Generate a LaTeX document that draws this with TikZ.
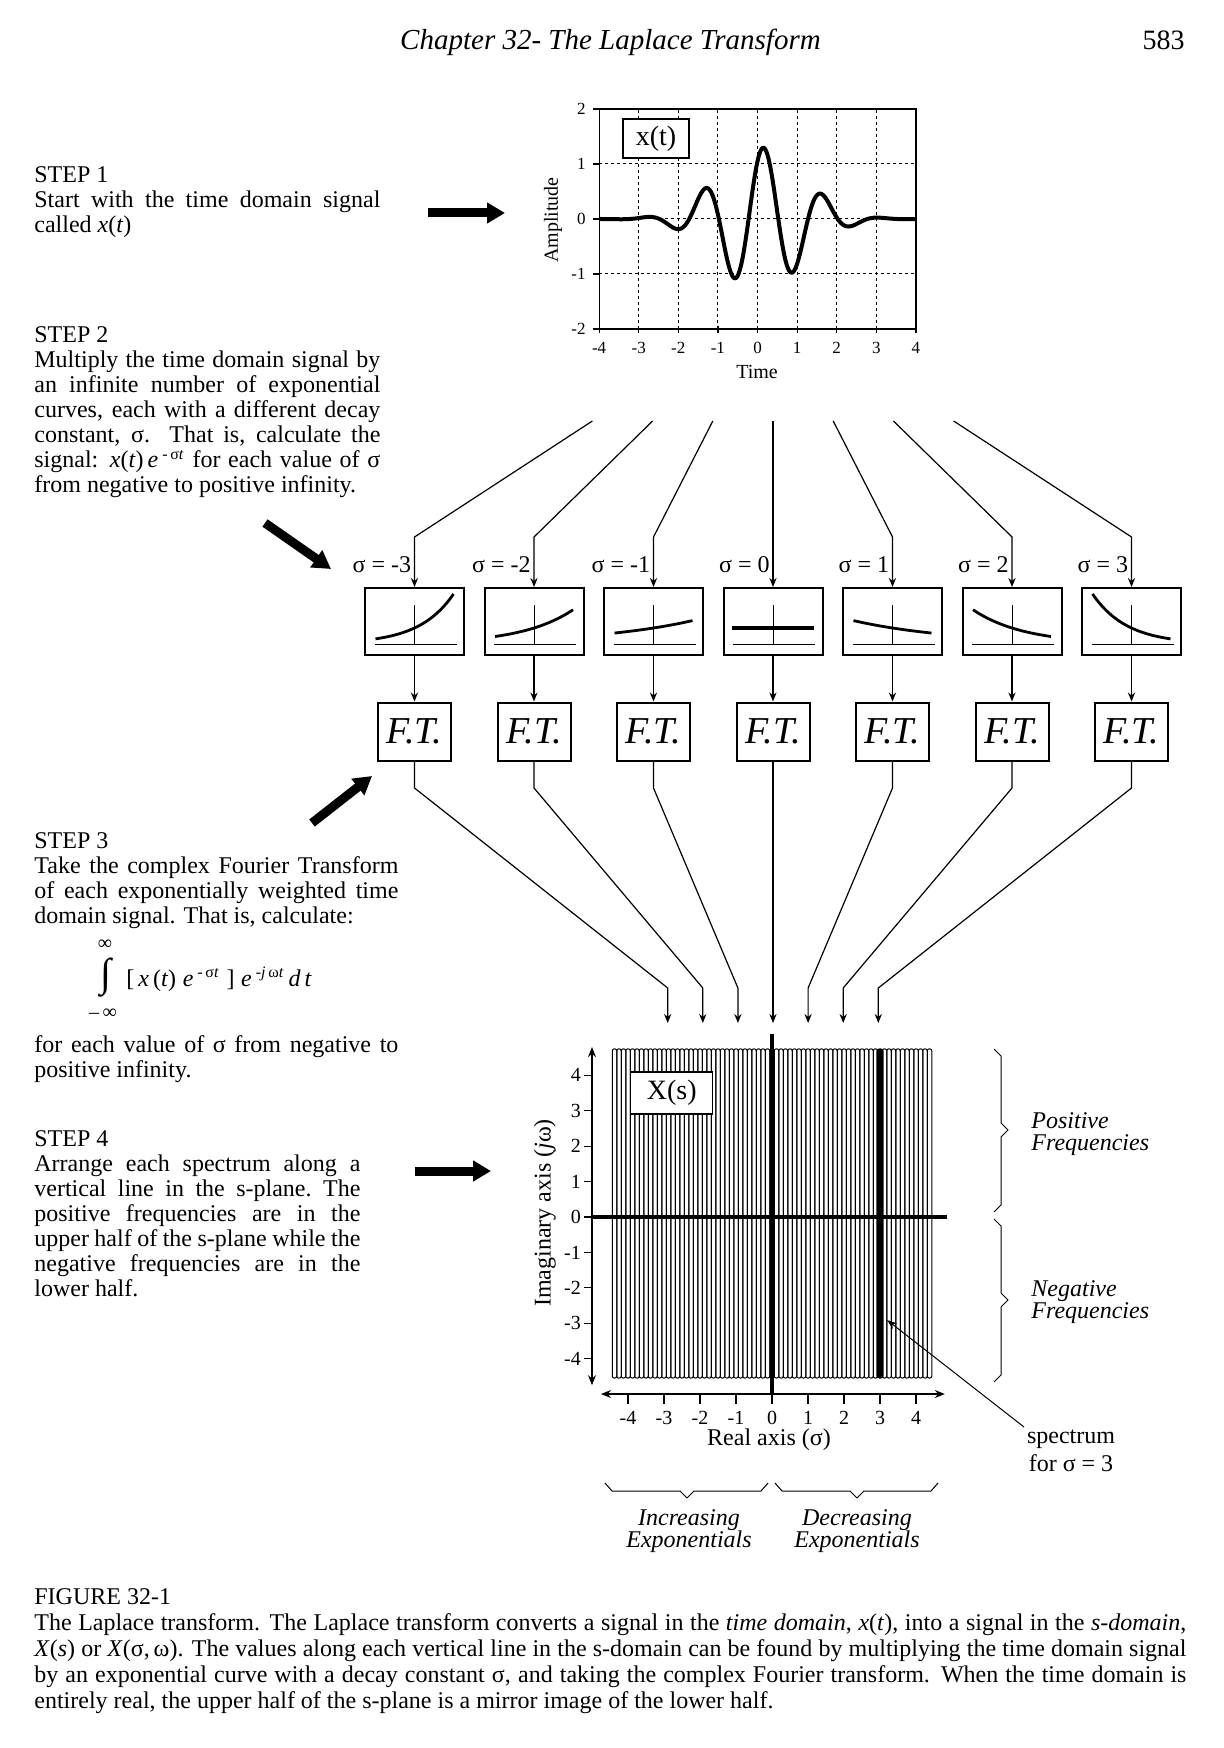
\documentclass[tikz,border=0pt]{standalone}
\usepackage{fontspec}
\setmainfont{Liberation Serif}
\usetikzlibrary{arrows.meta}
\tolerance=9999
\hbadness=10000

\begin{document}
\begin{tikzpicture}[x=0.5pt,y=-0.5pt]
    \tikzset{lbl/.style = {inner sep=0}}
    \tikzset{steptext/.style = {lbl,anchor=base west,align=justify,font=\fontsize{12}{12.5}\selectfont}}
    \tikzset{expbox/.style = {shape=rectangle,draw,line width=1pt,minimum width=49.5pt,minimum height=33.5pt}}
    \tikzset{ftbox/.style = {shape=rectangle,draw,line width=1pt,inner sep=0,minimum width=36.5pt,minimum height=29pt,font=\fontsize{19}{19}\selectfont\itshape}}
    \tikzset{titlebox/.style = {shape=rectangle,draw,line width=0.6pt,fill=white,inner sep=0,font=\fontsize{14}{14}\selectfont}}
    \tikzset{conn/.style = {line width=0.6pt,-{Stealth[length=4.5pt,width=3.6pt]}}}
    \tikzset{bigarrow/.style = {line width=4.5pt,-{Triangle[length=9pt,width=10pt]}}}
    \tikzset{gridline/.style = {line width=0.5pt,dash pattern=on 1.5pt off 1.5pt}}
    \tikzset{capsule/.style = {line width=0.5pt,rounded corners=1pt}}
    \tikzset{curly/.style = {line width=0.5pt}}
    \tikzset{axisarrow/.style = {line width=0.6pt,{Stealth[length=5pt,width=4pt]}-{Stealth[length=5pt,width=4pt]}}}
    \useasboundingbox (0,0) rectangle (1224,1748);

    % page head
    \node[lbl,anchor=base,font=\fontsize{14.5}{15}\selectfont\itshape] (head) at (610.5,50) {Chapter 32- The Laplace Transform};
    \node[lbl,anchor=base east,font=\fontsize{14}{15}\selectfont] (page) at (1185,50) {583};

    % steps
    \node[steptext,text width=173pt] (step1) at (34,183) {STEP 1\\Start with the time domain signal\linebreak called \textit{x}(\textit{t})};
    \node[steptext,text width=173pt] (step2) at (34,343) {STEP 2\\Multiply the time domain signal by\linebreak an infinite number of exponential\linebreak curves, each with a different decay\linebreak constant, σ.  That is, calculate the\linebreak signal: \textit{x}(\textit{t})\,\textit{e}\,\textsuperscript{-\,σ\textit{t}} for each value of σ\linebreak from negative to positive infinity.};
    \node[steptext,text width=182pt] (step3) at (34,848) {STEP 3\\Take the complex Fourier Transform\linebreak of each exponentially weighted time\linebreak domain signal.  That is, calculate:};
    % the integral
    \node[lbl,font=\fontsize{20}{20}\selectfont] (isign) at (106,978) {∫};
    \node[lbl,font=\fontsize{10}{10}\selectfont] (iup) at (105,945) {∞};
    \node[lbl,font=\fontsize{10}{10}\selectfont] (ilo) at (103,1014) {–\,∞};
    \node[lbl,anchor=base west,font=\fontsize{12}{12.5}\selectfont] (iexp) at (126,986) {[\,\textit{x}\,(\textit{t})\;\textit{e}\,\textsuperscript{-\,σ\textit{t}}\;]\;\textit{e}\,\textsuperscript{-\textit{j}\,ω\textit{t}}\,\textit{d\,t}};
    \node[steptext,text width=182pt] (step3b) at (34,1052) {for each value of σ from negative to\linebreak positive infinity.};
    \node[steptext,text width=163pt] (step4) at (34,1146) {STEP 4\\Arrange each spectrum along a\linebreak vertical line in the s-plane.\ The\linebreak positive frequencies are in the\linebreak upper half of the s-plane while the\linebreak negative frequencies are in the\linebreak lower half.};

    % big arrows
    \coordinate (a1) at (428,213);  \coordinate (a1t) at (505,213);
    \coordinate (a2) at (265,523);  \coordinate (a2t) at (331,569);
    \coordinate (a3) at (312,823);  \coordinate (a3t) at (372,776);
    \coordinate (a4) at (415,1171); \coordinate (a4t) at (491,1171);
    \draw[bigarrow] (a1) -- (a1t);
    \draw[bigarrow] (a2) -- (a2t);
    \draw[bigarrow] (a3) -- (a3t);
    \draw[bigarrow] (a4) -- (a4t);

    % time domain signal
    \begin{scope}[shift={(757.5,219)},x=19.8pt,y=27.5pt]
        \foreach \t in {-3,...,3} \draw[gridline] (\t,-2) -- (\t,2);
        \foreach \a in {-1,0,1} \draw[gridline] (-4,\a) -- (4,\a);
        \draw[line width=0.6pt] (-4,-2) rectangle (4,2);
        \foreach \t [count=\n] in {-4,...,4} {
            \draw[line width=0.6pt] (\t,-1.95) -- (\t,-2.08);
            \node[lbl,font=\fontsize{8.5}{8.5}\selectfont] (tx\n) at (\t,-2.34) {\t};
        }
        \foreach \a [count=\n] in {-2,...,2} {
            \draw[line width=0.6pt] (-4.15,\a) -- (-4,\a);
            \node[lbl,anchor=east,font=\fontsize{8.5}{8.5}\selectfont] (ty\n) at (-4.33,\a) {\a};
        }
        \draw[line width=2pt,line join=round] plot[domain=-4:4,samples=321]
            (\x,{1.3*exp(-((\x-0.07)*(\x-0.07))/2.3)*cos(deg(2*pi*(\x-0.15)/1.5))});
    \end{scope}
    \node[titlebox,minimum width=33pt,minimum height=19.5pt] (xt) at (656,138.5) {x(t)};
    \node[lbl,font=\fontsize{10}{10}\selectfont] (time) at (757,372) {Time};
    \node[lbl,rotate=90,font=\fontsize{10}{10}\selectfont] (amp) at (553,220) {Amplitude};

    % exponentials and transforms
    \foreach \i/\s in {1/-3,2/-2,3/-1,4/0,5/1,6/2,7/3} {
        \pgfmathsetmacro\cx{773+119.5*(\i-4)}
        \pgfmathsetmacro\tx{773+60.2*(\i-4)}
        \pgfmathsetmacro\bx{773+35.1*(\i-4)}
        \node[expbox] (e\i) at (\cx,621.5) {};
        \node[ftbox] (f\i) at (\cx,731.5) {F.T.};
        \node[lbl,anchor=east,font=\fontsize{12}{12}\selectfont] (s\i) at (\cx-3,565) {σ = \s};
        \coordinate (t\i) at (\tx,421);
        \coordinate (k\i) at (\cx,537);
        \coordinate (m\i) at (\cx,788);
        \coordinate (n\i) at (\bx,988);
        \coordinate (b\i) at (\bx,1023);
        \draw[conn] (t\i) -- (k\i) -- (e\i);
        \draw[conn] (e\i) -- (f\i);
        \draw[conn] (f\i) -- (m\i) -- (n\i) -- (b\i);
        \begin{scope}[shift={(e\i.center)}]
            \draw[line width=0.45pt] (-40,22.5) -- (42,22.5);
            \draw[line width=0.45pt] (0,-16.5) -- (0,22.5);
            \pgfmathsetmacro\lw{\s==0 ? 2.2 : 1.4}
            \pgfmathsetmacro\hw{\s==0 ? 41 : 39}
            \draw[line width=\lw pt] plot[domain=-1:1,samples=40] ({\hw*\x},{22.5-16*exp(-0.38*(\s)*\x)});
        \end{scope}
    }

    % s-plane
    \begin{scope}[shift={(772,1217)},x=18pt,y=17.7pt]
        \foreach \k in {-35,...,35} \draw[capsule] ({\k/8-1/16},-4.55) rectangle ({\k/8+1/16},4.75);
        \fill[rounded corners=1pt] (2.9,-4.55) rectangle (3.1,4.75);
        \draw[line width=1.8pt] (-5,0) -- (4.87,0);
        \draw[line width=1.8pt] (0,5.17) -- (0,-5);
        \draw[axisarrow] (-5,-4.75) -- (-5,4.8);
        \draw[axisarrow] (-4.75,-5) -- (4.8,-5);
        \foreach \v [count=\n] in {-4,...,4} {
            \draw[line width=0.6pt] (-5.22,\v) -- (-5,\v);
            \node[lbl,anchor=east,font=\fontsize{10}{10}\selectfont] (sy\n) at (-5.3,\v) {\v};
            \draw[line width=0.6pt] (\v,-5) -- (\v,-5.28);
            \node[lbl,font=\fontsize{10}{10}\selectfont] (sx\n) at (\v,-5.68) {\v};
        }
    \end{scope}
    \node[titlebox,minimum width=41pt,minimum height=21pt] (xs) at (671.7,1093) {X(s)};
    \node[lbl,rotate=90,font=\fontsize{12}{12}\selectfont] (imag) at (545,1213) {Imaginary axis (\textit{j}ω)};
    \node[lbl,font=\fontsize{12}{12}\selectfont] (real) at (769,1440) {Real axis (σ)};

    % spectrum pointer
    \node[lbl,align=center,font=\fontsize{12}{14}\selectfont] (spec) at (1071,1451) {spectrum\\for σ = 3};
    \coordinate (ptail) at (1024,1427);
    \coordinate (ptip) at (887,1320);
    \draw[line width=0.5pt,-{Stealth[length=5pt,width=3.5pt]}] (ptail) -- (ptip);

    % braces
    \draw[curly] (994,1049) -- (1001,1056) -- (1001,1123) -- (1008,1130) -- (1001,1137) -- (1001,1205) -- (994,1212);
    \draw[curly] (994,1219) -- (1001,1226) -- (1001,1293) -- (1008,1300) -- (1001,1307) -- (1001,1375) -- (994,1382);
    \draw[curly] (605,1483) -- (612,1491) -- (680,1491) -- (687,1498) -- (694,1491) -- (761,1491) -- (768,1483);
    \draw[curly] (775,1483) -- (782,1491) -- (850,1491) -- (857,1498) -- (864,1491) -- (931,1491) -- (938,1483);
    \node[lbl,anchor=west,align=left,font=\fontsize{12}{11}\selectfont\itshape] (pos) at (1031,1134) {Positive\\Frequencies};
    \node[lbl,anchor=west,align=left,font=\fontsize{12}{11}\selectfont\itshape] (neg) at (1031,1302) {Negative\\Frequencies};
    \node[lbl,align=center,font=\fontsize{12}{11}\selectfont\itshape] (inc) at (689,1531) {Increasing\\Exponentials};
    \node[lbl,align=center,font=\fontsize{12}{11}\selectfont\itshape] (dec) at (857,1531) {Decreasing\\Exponentials};

    % caption
    \node[steptext,text width=576pt,font=\fontsize{12}{13.1}\selectfont] (cap) at (34,1604) {FIGURE 32-1\\The Laplace transform. The Laplace transform converts a signal in the \textit{time domain}, \textit{x}(\textit{t}), into a signal in the \textit{s-domain},\linebreak \textit{X}(\textit{s}) or \textit{X}(σ,\,ω).  The values along each vertical line in the s-domain can be found by multiplying the time domain signal\linebreak by an exponential curve with a decay constant σ, and taking the complex Fourier transform.  When the time domain is\linebreak entirely real, the upper half of the s-plane is a mirror image of the lower half.};
\end{tikzpicture}
\end{document}
